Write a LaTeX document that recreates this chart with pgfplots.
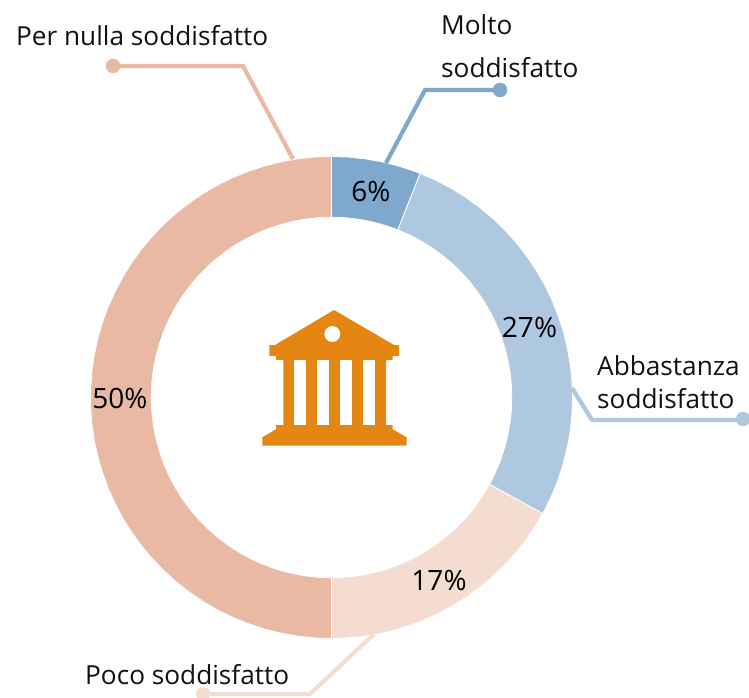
\documentclass[border=0pt]{standalone}
\usepackage{fontspec}
\setmainfont{Open Sans}
\usepackage{pgfplots}
\pgfplotsset{compat=1.18}
\definecolor{molto}{HTML}{7FA9CC}
\definecolor{abba}{HTML}{ADC8DF}
\definecolor{poco}{HTML}{F5DCD0}
\definecolor{nulla}{HTML}{EAB9A4}
\definecolor{icona}{HTML}{E58512}
\definecolor{testo}{HTML}{111111}
\pgfplotsset{
    base/.style={hide axis, scale only axis, width=749pt, height=698pt, anchor=south west, at={(0,0)}},
    leader/.style={line width=4.2pt, line join=miter, mark=none},
    dot/.style={only marks, mark=*, mark size=7pt, mark options={draw=none}},
}
\newcommand{\lab}{\fontsize{26.2}{30}\selectfont\color{testo}}
\newcommand{\pct}{\fontsize{28}{32}\selectfont\color{black}}
\begin{document}
\begin{tikzpicture}
\useasboundingbox (0,0) rectangle (749pt,698pt);
% ring, centred on the origin, angle and radius
\begin{axis}[base, xmin=-331.5, xmax=417.5, ymin=-300.5, ymax=397.5]
\addplot[fill=nulla, draw=white, line width=0.8pt, data cs=polar] coordinates {
(270,241)(266,241)(262,241)(258,241)(254,241)(250,241)(246,241)(242,241)(238,241)(234,241)(230,241)(226,241)(222,241)(218,241)(214,241)(210,241)(206,241)(202,241)(198,241)(194,241)(190,241)(186,241)(182,241)(178,241)(174,241)(170,241)(166,241)(162,241)(158,241)(154,241)(150,241)(146,241)(142,241)(138,241)(134,241)(130,241)(126,241)(122,241)(118,241)(114,241)(110,241)(106,241)(102,241)(98,241)(94,241)(90,241)
(90,180.3)(94,180.3)(98,180.3)(102,180.3)(106,180.3)(110,180.3)(114,180.3)(118,180.3)(122,180.3)(126,180.3)(130,180.3)(134,180.3)(138,180.3)(142,180.3)(146,180.3)(150,180.3)(154,180.3)(158,180.3)(162,180.3)(166,180.3)(170,180.3)(174,180.3)(178,180.3)(182,180.3)(186,180.3)(190,180.3)(194,180.3)(198,180.3)(202,180.3)(206,180.3)(210,180.3)(214,180.3)(218,180.3)(222,180.3)(226,180.3)(230,180.3)(234,180.3)(238,180.3)(242,180.3)(246,180.3)(250,180.3)(254,180.3)(258,180.3)(262,180.3)(266,180.3)(270,180.3)
} -- cycle;
\addplot[fill=molto, draw=white, line width=0.8pt, data cs=polar] coordinates {
(90,241)(86,241)(82,241)(78,241)(74,241)(70,241)(68.4,241)
(68.4,180.3)(70,180.3)(74,180.3)(78,180.3)(82,180.3)(86,180.3)(90,180.3)
} -- cycle;
\addplot[fill=abba, draw=white, line width=0.8pt, data cs=polar] coordinates {
(68.4,241)(64,241)(60,241)(56,241)(52,241)(48,241)(44,241)(40,241)(36,241)(32,241)(28,241)(24,241)(20,241)(16,241)(12,241)(8,241)(4,241)(0,241)(-4,241)(-8,241)(-12,241)(-16,241)(-20,241)(-24,241)(-28,241)(-28.8,241)
(-28.8,180.3)(-28,180.3)(-24,180.3)(-20,180.3)(-16,180.3)(-12,180.3)(-8,180.3)(-4,180.3)(0,180.3)(4,180.3)(8,180.3)(12,180.3)(16,180.3)(20,180.3)(24,180.3)(28,180.3)(32,180.3)(36,180.3)(40,180.3)(44,180.3)(48,180.3)(52,180.3)(56,180.3)(60,180.3)(64,180.3)(68.4,180.3)
} -- cycle;
\addplot[fill=poco, draw=white, line width=0.8pt, data cs=polar] coordinates {
(-28.8,241)(-32,241)(-36,241)(-40,241)(-44,241)(-48,241)(-52,241)(-56,241)(-60,241)(-64,241)(-68,241)(-72,241)(-76,241)(-80,241)(-84,241)(-88,241)(-90,241)
(-90,180.3)(-88,180.3)(-84,180.3)(-80,180.3)(-76,180.3)(-72,180.3)(-68,180.3)(-64,180.3)(-60,180.3)(-56,180.3)(-52,180.3)(-48,180.3)(-44,180.3)(-40,180.3)(-36,180.3)(-32,180.3)(-28.8,180.3)
} -- cycle;
\end{axis}
% leaders, icon and labels, in the picture's own pixels
\begin{axis}[base, xmin=0, xmax=749, ymin=0, ymax=698, y dir=reverse]
\addplot[leader, nulla] coordinates {(113,66)(243,66)(293,159)};
\addplot[dot, nulla] coordinates {(113,66)};
\addplot[leader, molto] coordinates {(500,90)(425,90)(386,163)};
\addplot[dot, molto] coordinates {(500,90)};
\addplot[leader, abba] coordinates {(743,420)(592,420)(572,388)};
\addplot[dot, abba] coordinates {(743,419)};
\addplot[leader, poco] coordinates {(203,694)(310,694)(374,634)};
\addplot[dot, poco] coordinates {(203,694)};
% icon
\addplot[fill=icona, draw=none] coordinates {
(334,310)(394,345)(399,345)(399,356)(392.7,356)(392.7,360)(386,360)(386,425)(392.7,425)(392.7,429.3)(406.7,437.3)(406.7,445.7)
(262.3,445.7)(262.3,437.3)(276,429.3)(276,425)(283.3,425)(283.3,360)(276,360)(276,356)(269.3,356)(269.3,345)(275,345)
} -- cycle;
\addplot[fill=white, draw=none] coordinates {(294.3,360)(306,360)(306,424.7)(294.3,424.7)} -- cycle;
\addplot[fill=white, draw=none] coordinates {(317.3,360)(329,360)(329,424.7)(317.3,424.7)} -- cycle;
\addplot[fill=white, draw=none] coordinates {(340,360)(352,360)(352,424.7)(340,424.7)} -- cycle;
\addplot[fill=white, draw=none] coordinates {(363,360)(374.7,360)(374.7,424.7)(363,424.7)} -- cycle;
\addplot[only marks, mark=*, mark size=7.7pt, white, mark options={draw=white, fill=white}] coordinates {(332.3,334)};
\node[anchor=base west, inner sep=0pt, font=\lab] at (axis cs:16,46) {Per nulla soddisfatto};
\node[anchor=base west, inner sep=0pt, font=\lab] at (axis cs:441,35) {Molto};
\node[anchor=base west, inner sep=0pt, font=\lab] at (axis cs:441,78) {soddisfatto};
\node[anchor=base west, inner sep=0pt, font=\lab] at (axis cs:597,375) {Abbastanza};
\node[anchor=base west, inner sep=0pt, font=\lab] at (axis cs:597,408) {soddisfatto};
\node[anchor=base west, inner sep=0pt, font=\lab] at (axis cs:85,684) {Poco soddisfatto};
\node[anchor=base, inner sep=0pt, font=\pct] at (axis cs:371,201.5) {6\%};
\node[anchor=base, inner sep=0pt, font=\pct] at (axis cs:529.5,337) {27\%};
\node[anchor=base, inner sep=0pt, font=\pct] at (axis cs:120,408) {50\%};
\node[anchor=base, inner sep=0pt, font=\pct] at (axis cs:439,590) {17\%};
\end{axis}
\end{tikzpicture}
\end{document}
